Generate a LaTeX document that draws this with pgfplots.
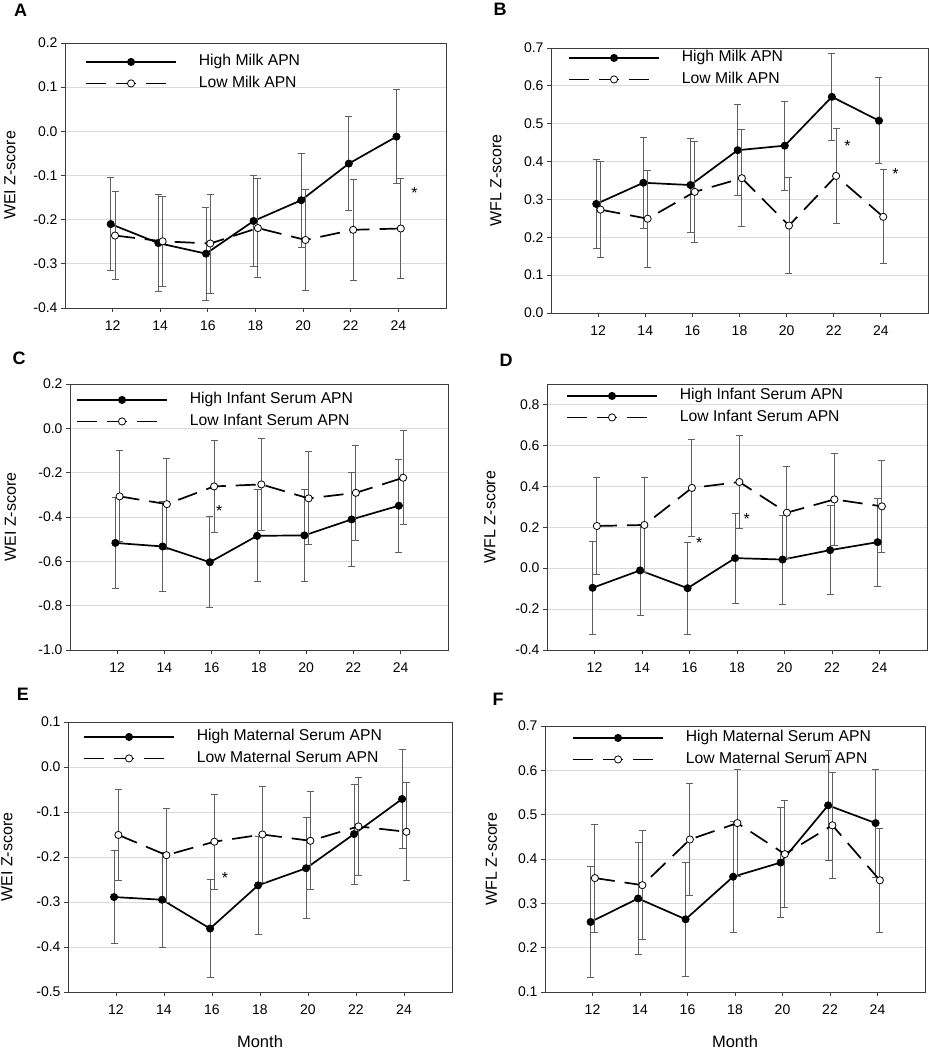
\documentclass[border=0pt]{standalone}
\usepackage{fontspec}
\setmainfont{Liberation Sans}
\usepackage{pgfplots}
\pgfplotsset{compat=1.18}
\definecolor{gridgray}{RGB}{218,218,218}
\definecolor{framegray}{RGB}{60,60,60}
\definecolor{errgray}{RGB}{95,95,95}
\pgfplotsset{
  panel/.style={
    scale only axis,
    xmin=10, xmax=26,
    xtick={12,14,16,18,20,22,24},
    tick align=outside,
    major tick length=4pt,
    xtick pos=bottom, ytick pos=left,
    axis line style={framegray, line width=0.9pt},
    every tick/.style={framegray, line width=0.8pt},
    ymajorgrids,
    grid style={gridgray, line width=0.8pt},
    tick label style={font=\fontsize{14}{16}\selectfont},
    yticklabel style={/pgf/number format/.cd, fixed, fixed zerofill, precision=1, assume math mode=true},
    xticklabel style={/pgf/number format/assume math mode=true, yshift=-5pt},
    legend style={draw=none, fill=none, at={(rel axis cs:0,1)}, anchor=north west,
      inner sep=0pt, font=\fontsize{15.7}{18}\selectfont,
      column sep=22pt, row sep=5pt,
      nodes={inner xsep=0pt, inner ysep=1pt, text height=11pt, text depth=3.5pt}},
    legend cell align=left,
    legend image code/.code={\draw[mark repeat=2, mark phase=2, ##1] plot coordinates {(0pt,0pt) (45pt,0pt) (90pt,0pt)};},
  },
  ylab/.style={every axis y label/.style={at={(rel axis cs:0,0.5)}, xshift=-#1, rotate=90, anchor=center, font=\fontsize{16}{19}\selectfont}},
  leg/.style 2 args={legend style={xshift=#1, yshift=#2}},
  month/.style={xlabel={Month}, every axis x label/.style={at={(rel axis cs:0.5,0)}, yshift=-50pt, anchor=center, font=\fontsize{16.5}{19}\selectfont}},
  high/.style={black, solid, line width=1.7pt, mark=*, mark size=3.6pt, mark options={fill=black, solid, line width=0.8pt},
    error bars/.cd, y dir=both, y explicit, error bar style={errgray, line width=0.9pt, solid}, error mark options={rotate=90, errgray, mark size=3.5pt, line width=0.9pt, solid}},
  low/.style={black, line width=1.7pt, dash pattern=on 20pt off 10pt, mark=*, mark size=3.6pt, mark options={fill=white, solid, line width=0.8pt},
    error bars/.cd, y dir=both, y explicit, error bar style={errgray, line width=0.9pt, solid}, error mark options={rotate=90, errgray, mark size=3.5pt, line width=0.9pt, solid}},
}
\tikzset{star/.style={font=\fontsize{16}{19}\selectfont, yshift=-3pt, inner sep=0pt},
  letter/.style={font=\bfseries\fontsize{18}{21}\selectfont, inner sep=0pt}}
\begin{document}
\begin{tikzpicture}
\useasboundingbox (0,0) rectangle (929pt,1050pt);
% ---------------- A ----------------
\begin{axis}[panel, at={(65pt,742pt)}, anchor=south west, width=381pt, height=265pt,
  ymin=-0.4, ymax=0.2, ytick={-0.4,-0.3,-0.2,-0.1,0,0.1,0.2},
  ylab=55pt, ylabel={WEI Z-score}, leg={20pt}{-10.5pt}]
\addplot[high] table[x=x, y=y, y error=e, row sep=\\] {
x y e \\ 11.92 -0.210 0.106 \\ 13.92 -0.253 0.110 \\ 15.92 -0.277 0.105 \\ 17.92 -0.203 0.104 \\ 19.92 -0.156 0.106 \\ 21.92 -0.073 0.107 \\ 23.92 -0.012 0.106 \\ };
\addlegendentry{High Milk APN}
\addplot[low] table[x=x, y=y, y error=e, row sep=\\] {
x y e \\ 12.1 -0.236 0.099 \\ 14.1 -0.249 0.102 \\ 16.1 -0.254 0.112 \\ 18.1 -0.219 0.112 \\ 20.1 -0.246 0.114 \\ 22.1 -0.223 0.114 \\ 24.1 -0.220 0.113 \\ };
\addlegendentry{Low Milk APN}
\node[star] at (axis cs:24.68,-0.132) {*};
\end{axis}
% ---------------- B ----------------
\begin{axis}[panel, at={(551pt,737pt)}, anchor=south west, width=377pt, height=265pt,
  ymin=0, ymax=0.7, ytick={0,0.1,0.2,0.3,0.4,0.5,0.6,0.7},
  ylab=55pt, ylabel={WFL Z-score}, leg={17pt}{-1.5pt}]
\addplot[high] table[x=x, y=y, y error=e, row sep=\\] {
x y e \\ 11.92 0.288 0.118 \\ 13.92 0.344 0.120 \\ 15.92 0.338 0.124 \\ 17.92 0.430 0.120 \\ 19.92 0.442 0.117 \\ 21.92 0.571 0.115 \\ 23.92 0.508 0.114 \\ };
\addlegendentry{High Milk APN}
\addplot[low] table[x=x, y=y, y error=e, row sep=\\] {
x y e \\ 12.1 0.273 0.127 \\ 14.1 0.249 0.128 \\ 16.1 0.320 0.133 \\ 18.1 0.356 0.128 \\ 20.1 0.231 0.126 \\ 22.1 0.362 0.125 \\ 24.1 0.254 0.124 \\ };
\addlegendentry{Low Milk APN}
\node[star] at (axis cs:22.58,0.45) {*};
\node[star] at (axis cs:24.62,0.374) {*};
\end{axis}
% ---------------- C ----------------
\begin{axis}[panel, at={(70pt,400pt)}, anchor=south west, width=378pt, height=266pt,
  ymin=-1, ymax=0.2, ytick={-1,-0.8,-0.6,-0.4,-0.2,0,0.2},
  ylab=59.5pt, ylabel={WEI Z-score}, leg={6pt}{-7.5pt}]
\addplot[high] table[x=x, y=y, y error=e, row sep=\\] {
x y e \\ 11.92 -0.517 0.205 \\ 13.92 -0.533 0.205 \\ 15.92 -0.604 0.206 \\ 17.92 -0.485 0.208 \\ 19.92 -0.483 0.208 \\ 21.92 -0.411 0.210 \\ 23.92 -0.349 0.210 \\ };
\addlegendentry{High Infant Serum APN}
\addplot[low] table[x=x, y=y, y error=e, row sep=\\] {
x y e \\ 12.1 -0.307 0.205 \\ 14.1 -0.342 0.205 \\ 16.1 -0.262 0.206 \\ 18.1 -0.253 0.209 \\ 20.1 -0.316 0.210 \\ 22.1 -0.291 0.213 \\ 24.1 -0.223 0.212 \\ };
\addlegendentry{Low Infant Serum APN}
\node[star] at (axis cs:16.32,-0.36) {*};
\end{axis}
% ---------------- D ----------------
\begin{axis}[panel, at={(547pt,400pt)}, anchor=south west, width=380pt, height=266pt,
  ymin=-0.4, ymax=0.9, ytick={-0.4,-0.2,0,0.2,0.4,0.6,0.8},
  ylab=57pt, ylabel={WFL Z-score}, leg={19pt}{-3.5pt}]
\addplot[high] table[x=x, y=y, y error=e, row sep=\\] {
x y e \\ 11.92 -0.096 0.228 \\ 13.92 -0.011 0.222 \\ 15.92 -0.098 0.225 \\ 17.92 0.049 0.220 \\ 19.92 0.042 0.217 \\ 21.92 0.088 0.216 \\ 23.92 0.127 0.216 \\ };
\addlegendentry{High Infant Serum APN}
\addplot[low] table[x=x, y=y, y error=e, row sep=\\] {
x y e \\ 12.1 0.206 0.237 \\ 14.1 0.211 0.232 \\ 16.1 0.392 0.235 \\ 18.1 0.421 0.229 \\ 20.1 0.271 0.225 \\ 22.1 0.336 0.226 \\ 24.1 0.302 0.225 \\ };
\addlegendentry{Low Infant Serum APN}
\node[star] at (axis cs:16.41,0.139) {*};
\node[star] at (axis cs:18.41,0.256) {*};
\end{axis}
% ---------------- E ----------------
\begin{axis}[panel, at={(68pt,58pt)}, anchor=south west, width=384pt, height=270pt,
  ymin=-0.5, ymax=0.1, ytick={-0.5,-0.4,-0.3,-0.2,-0.1,0,0.1},
  ylab=61pt, ylabel={WEI Z-score}, leg={15pt}{-6.5pt}, month]
\addplot[high] table[x=x, y=y, y error=e, row sep=\\] {
x y e \\ 11.92 -0.289 0.103 \\ 13.92 -0.295 0.106 \\ 15.92 -0.359 0.108 \\ 17.92 -0.263 0.109 \\ 19.92 -0.225 0.112 \\ 21.92 -0.149 0.111 \\ 23.92 -0.071 0.111 \\ };
\addlegendentry{High Maternal Serum APN}
\addplot[low] table[x=x, y=y, y error=e, row sep=\\] {
x y e \\ 12.1 -0.151 0.101 \\ 14.1 -0.196 0.104 \\ 16.1 -0.166 0.106 \\ 18.1 -0.150 0.107 \\ 20.1 -0.164 0.109 \\ 22.1 -0.132 0.109 \\ 24.1 -0.144 0.109 \\ };
\addlegendentry{Low Maternal Serum APN}
\node[star] at (axis cs:16.54,-0.239) {*};
\end{axis}
% ---------------- F ----------------
\begin{axis}[panel, at={(545pt,58pt)}, anchor=south west, width=380pt, height=266pt,
  ymin=0.1, ymax=0.7, ytick={0.1,0.2,0.3,0.4,0.5,0.6,0.7},
  ylab=53.5pt, ylabel={WFL Z-score}, leg={27pt}{-3.5pt}, month]
\addplot[high] table[x=x, y=y, y error=e, row sep=\\] {
x y e \\ 11.92 0.258 0.125 \\ 13.92 0.311 0.127 \\ 15.92 0.264 0.129 \\ 17.92 0.360 0.125 \\ 19.92 0.392 0.124 \\ 21.92 0.521 0.124 \\ 23.92 0.481 0.122 \\ };
\addlegendentry{High Maternal Serum APN}
\addplot[low] table[x=x, y=y, y error=e, row sep=\\] {
x y e \\ 12.1 0.357 0.122 \\ 14.1 0.341 0.123 \\ 16.1 0.444 0.126 \\ 18.1 0.481 0.121 \\ 20.1 0.411 0.120 \\ 22.1 0.476 0.119 \\ 24.1 0.352 0.118 \\ };
\addlegendentry{Low Maternal Serum APN}
\end{axis}
% panel letters
\node[letter] at (20.5pt,1040pt) {A};
\node[letter] at (500pt,1041pt) {B};
\node[letter] at (19pt,692pt) {C};
\node[letter] at (506pt,690pt) {D};
\node[letter] at (23pt,356pt) {E};
\node[letter] at (498pt,351pt) {F};
\end{tikzpicture}
\end{document}
